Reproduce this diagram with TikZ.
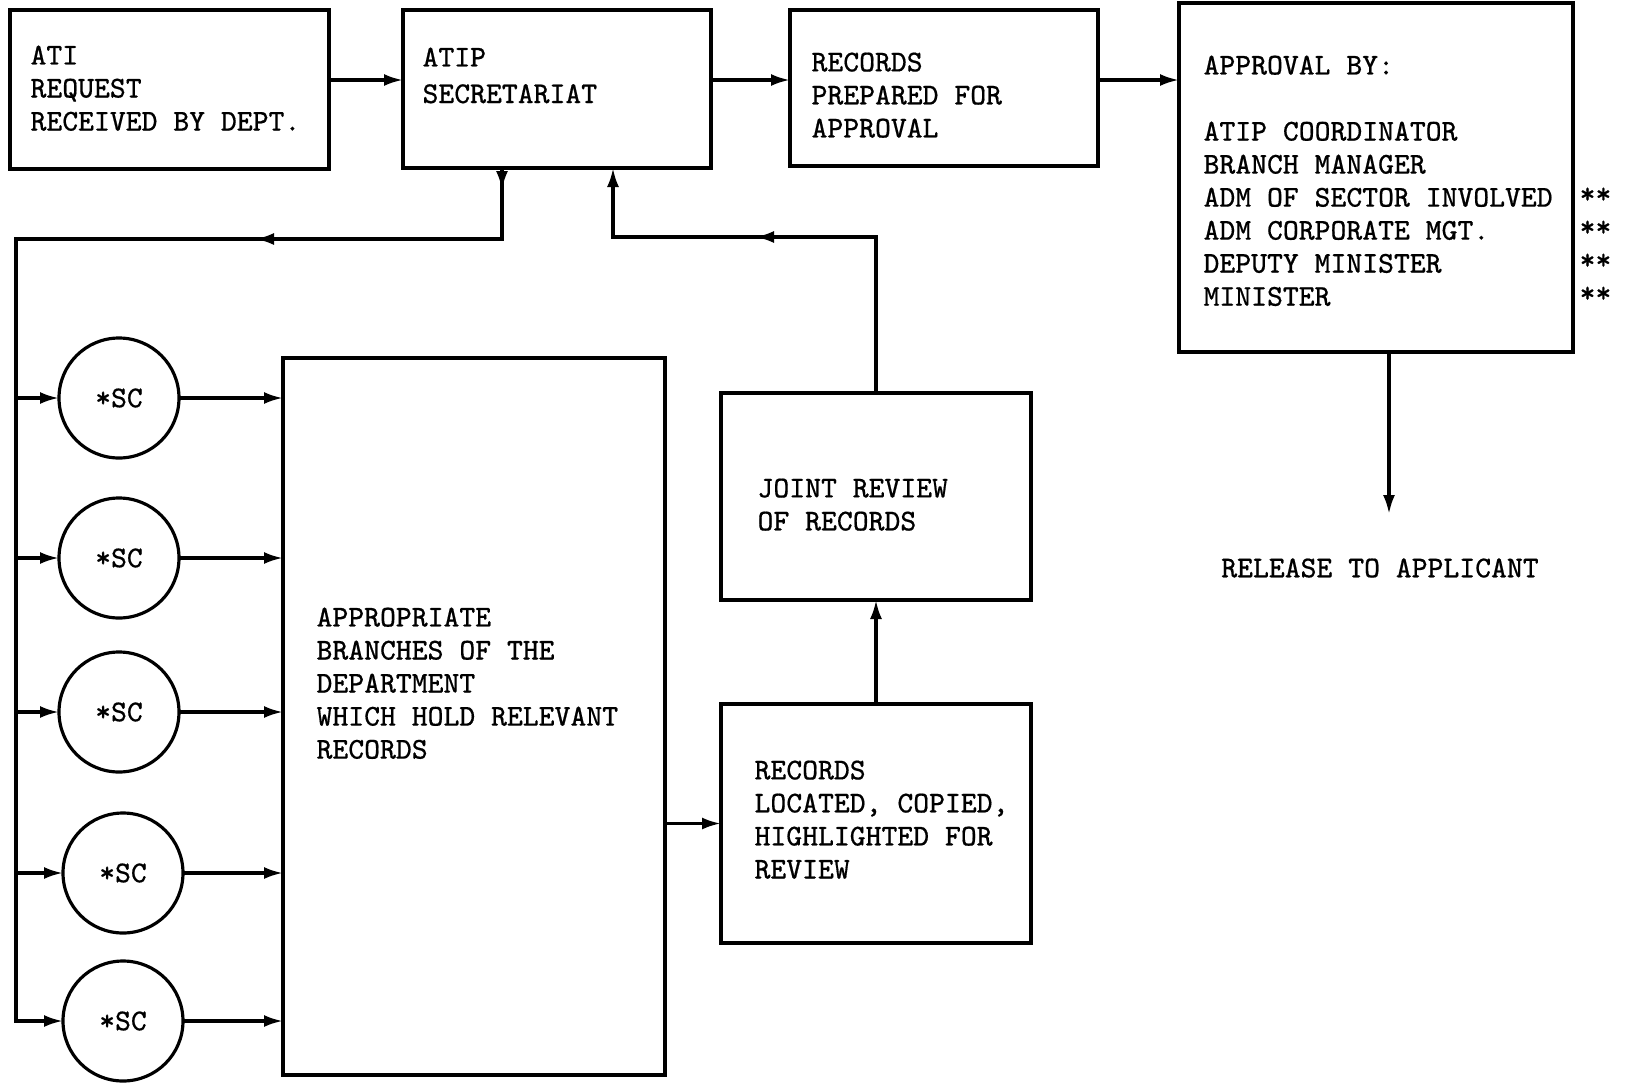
\documentclass[tikz,border=0pt]{standalone}
\usepackage{fontspec}
\setmonofont{Latin Modern Mono}[FakeBold=0.5]
\usetikzlibrary{arrows.meta,decorations.markings}

\begin{document}
\begin{tikzpicture}[x=0.1mm, y=-0.1mm, line width=0.9pt,
    box/.style={draw, rectangle, inner sep=0pt, outer sep=0pt},
    sc/.style={draw, circle, minimum size=12mm, inner sep=0pt, outer sep=0pt, font=\fontsize{8.6pt}{9.4pt}\ttfamily},
    txt/.style={anchor=north west, align=left, inner sep=0pt, font=\fontsize{8.6pt}{9.4pt}\ttfamily},
    arr/.style={-{Latex[length=1.9mm,width=1.2mm]}},
    midarr/.style={postaction={decorate, decoration={markings, mark=at position #1 with {\arrow{Latex[length=1.9mm,width=1.2mm]}}}}}]
    \useasboundingbox (0,0) rectangle (1629,1084);

    \node[box, minimum width=31.9mm, minimum height=15.9mm] (ati) at (169.5,89.5) {};
    \node[box, minimum width=30.8mm, minimum height=15.8mm] (atip) at (557,89) {};
    \node[box, minimum width=30.8mm, minimum height=15.6mm] (prep) at (944,88) {};
    \node[box, minimum width=39.4mm, minimum height=34.9mm] (appr) at (1376,177.5) {};
    \node[box, minimum width=38.2mm, minimum height=71.7mm] (dept) at (474,716.5) {};
    \node[box, minimum width=31mm, minimum height=20.7mm] (joint) at (876,496.5) {};
    \node[box, minimum width=31mm, minimum height=23.9mm] (locd) at (876,823.5) {};

    \node[txt] (atiT) at (29,44) {ATI\\REQUEST\\RECEIVED BY DEPT.};
    \node[txt] (atipT) at (421,46) {ATIP\\[1pt]SECRETARIAT};
    \node[txt] (prepT) at (810,51) {RECORDS\\PREPARED FOR\\APPROVAL};
    \node[txt] (apprT) at (1202,54) {APPROVAL BY:\\[9.4pt]ATIP COORDINATOR\\BRANCH MANAGER\\ADM OF SECTOR INVOLVED\\ADM CORPORATE MGT.\\DEPUTY MINISTER\\MINISTER};
    \node[txt] (stars) at (1578,186) {**\\**\\**\\**};
    \node[txt] (deptT) at (315,606) {APPROPRIATE\\BRANCHES OF THE\\DEPARTMENT\\WHICH HOLD RELEVANT\\RECORDS};
    \node[txt] (jointT) at (756,477) {JOINT REVIEW\\OF RECORDS};
    \node[txt] (locdT) at (753,759) {RECORDS\\LOCATED, COPIED,\\HIGHLIGHTED FOR\\REVIEW};
    \node[txt, anchor=center] (relT) at (1380,568) {RELEASE TO APPLICANT};

    \node[sc] (sc1) at (119,398) {*SC};
    \node[sc] (sc2) at (119,558) {*SC};
    \node[sc] (sc3) at (119,712) {*SC};
    \node[sc] (sc4) at (123,873) {*SC};
    \node[sc] (sc5) at (123,1021) {*SC};

    \coordinate (row) at (0,80);
    \coordinate (down) at (502,168);
    \coordinate (up) at (613,168);
    \coordinate (rail) at (16,239);
    \coordinate (loop) at (613,237);
    \coordinate (rel) at (1389,514);

    \draw[arr] (ati.east |- row) -- (atip.west |- row);
    \draw[arr] (atip.east |- row) -- (prep.west |- row);
    \draw[arr] (prep.east |- row) -- (appr.west |- row);

    \draw[arr, midarr=2.2mm, midarr=31.8mm] (down) |- (rail) -- (sc5 -| rail) -- (sc5.west);
    \draw[arr] (sc1 -| rail) -- (sc1.west);
    \draw[arr] (sc2 -| rail) -- (sc2.west);
    \draw[arr] (sc3 -| rail) -- (sc3.west);
    \draw[arr] (sc4 -| rail) -- (sc4.west);

    \draw[arr] (sc1.east) -- (sc1 -| dept.west);
    \draw[arr] (sc2.east) -- (sc2 -| dept.west);
    \draw[arr] (sc3.east) -- (sc3 -| dept.west);
    \draw[arr] (sc4.east) -- (sc4 -| dept.west);
    \draw[arr] (sc5.east) -- (sc5 -| dept.west);

    \draw[arr] (locd.west -| dept.east) -- (locd.west);
    \draw[arr] (locd.north) -- (joint.south);
    \draw[arr, midarr=27.7mm] (joint.north) |- (loop) -- (up);
    \draw[arr] (appr.south -| rel) -- (rel);
\end{tikzpicture}
\end{document}
